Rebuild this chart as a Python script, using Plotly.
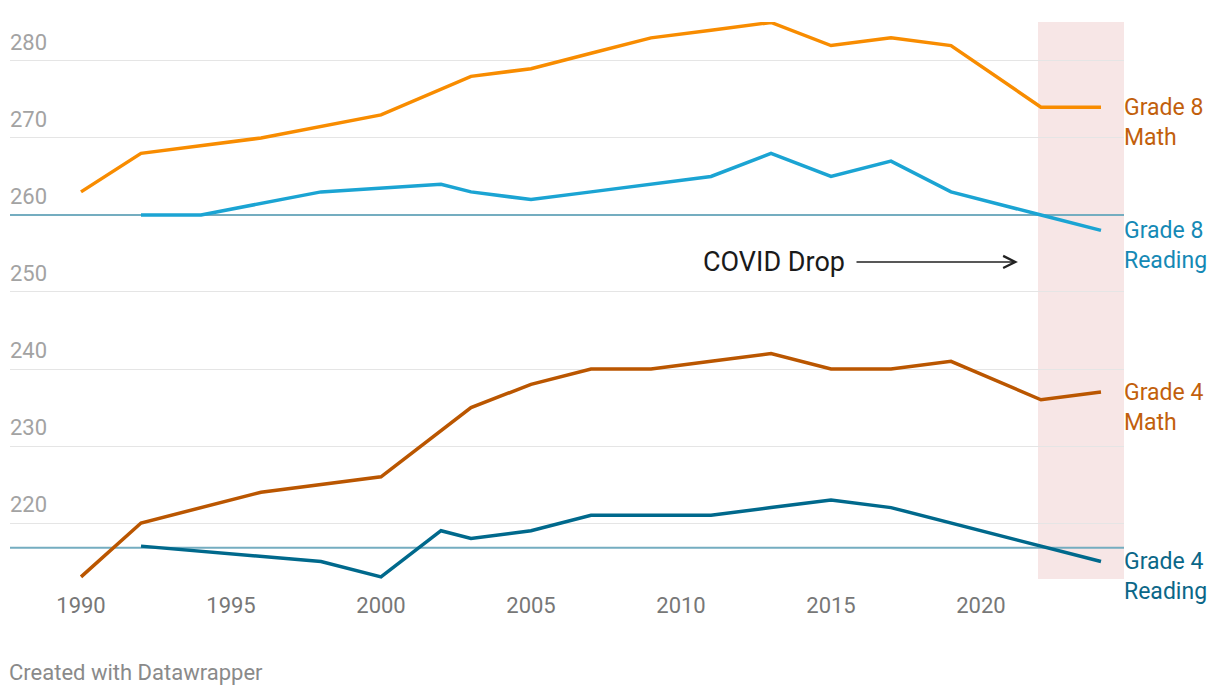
import plotly.graph_objects as go

# ---- data ----
g8_math_years = [1990, 1992, 1996, 2000, 2003, 2005, 2007, 2009, 2011, 2013, 2015, 2017, 2019, 2022, 2024]
g8_math = [263, 268, 270, 273, 278, 279, 281, 283, 284, 285, 282, 283, 282, 274, 274]

g8_read_years = [1992, 1994, 1998, 2002, 2003, 2005, 2007, 2009, 2011, 2013, 2015, 2017, 2019, 2022, 2024]
g8_read = [260, 260, 263, 264, 263, 262, 263, 264, 265, 268, 265, 267, 263, 260, 258]

g4_math_years = [1990, 1992, 1996, 2000, 2003, 2005, 2007, 2009, 2011, 2013, 2015, 2017, 2019, 2022, 2024]
g4_math = [213, 220, 224, 226, 235, 238, 240, 240, 241, 242, 240, 240, 241, 236, 237]

g4_read_years = [1992, 1998, 2000, 2002, 2003, 2005, 2007, 2009, 2011, 2013, 2015, 2017, 2019, 2022, 2024]
g4_read = [217, 215, 213, 219, 218, 219, 221, 221, 221, 222, 223, 222, 220, 217, 215]

reference_levels = [260, 216.8]
x_ticks = [1990, 1995, 2000, 2005, 2010, 2015, 2020]
y_ticks = [220, 230, 240, 250, 260, 270, 280]

series = [
    ("Grade 8<br>Math", g8_math_years, g8_math, "#f88c00", "#c25f0c"),
    ("Grade 8<br>Reading", g8_read_years, g8_read, "#1ba4d3", "#1589b5"),
    ("Grade 4<br>Math", g4_math_years, g4_math, "#ba5600", "#c25f0c"),
    ("Grade 4<br>Reading", g4_read_years, g4_read, "#00698c", "#0b6788"),
]

FONT = "Roboto"
X_MIN, X_MAX = 1987.633, 2024.767
Y_MIN, Y_MAX = 212.73, 285.06

fig = go.Figure()

# reference lines (above gridlines, below the data lines)
for lv in reference_levels:
    fig.add_trace(go.Scatter(x=[X_MIN, X_MAX], y=[lv, lv], mode="lines",
                             line=dict(color="#74adc0", width=2), hoverinfo="skip",
                             showlegend=False, cliponaxis=False))

for name, xs, ys, lc, tc in series:
    fig.add_trace(go.Scatter(x=xs, y=ys, mode="lines", name=name.replace("<br>", " "),
                             line=dict(color=lc, width=3.5), hoverinfo="skip", showlegend=False))
    fig.add_annotation(x=1, xref="paper", y=ys[-1], yref="y", text=name, showarrow=False,
                       xanchor="left", yanchor="top", yshift=15.5, xshift=-2, align="left",
                       font=dict(family=FONT, size=23, color=tc))

# COVID shaded period
fig.add_shape(type="rect", xref="x", yref="paper", x0=2021.9, x1=X_MAX, y0=0, y1=1,
              fillcolor="#f7e6e6", line=dict(width=0), layer="below")

# COVID annotation
fig.add_annotation(x=2021.23, y=253.9, ax=2015.8, ay=253.9, axref="x", ayref="y",
                   xref="x", yref="y", text="", showarrow=True, arrowhead=5,
                   arrowsize=1.7, arrowwidth=1.4, arrowcolor="#222222")
fig.add_annotation(x=2015.55, y=253.9, xref="x", yref="y", text="COVID Drop", showarrow=False,
                   xanchor="right", yanchor="middle", font=dict(family=FONT, size=27, color="#1a1a1a"))

# footer
fig.add_annotation(x=0, y=-0.167, xref="paper", yref="paper", text="Created with Datawrapper",
                   showarrow=False, xanchor="left", yanchor="middle", xshift=-3,
                   font=dict(family=FONT, size=22, color="#8a8a8a"))

fig.update_layout(
    width=1212, height=688, autosize=False,
    margin=dict(l=2, r=96, t=14, b=117),
    plot_bgcolor="white", paper_bgcolor="white",
    font=dict(family=FONT),
    xaxis=dict(range=[X_MIN, X_MAX], tickvals=x_ticks, showgrid=False, zeroline=False,
               showline=False, ticks="", ticklabelstandoff=11,
               tickfont=dict(family=FONT, size=22, color="#777777"),
               automargin=False, fixedrange=True),
    yaxis=dict(range=[Y_MIN, Y_MAX], tickvals=y_ticks, showgrid=True, gridcolor="#e5e5e5",
               gridwidth=1.3, zeroline=False, showline=False, ticks="",
               ticklabelposition="inside top", ticklabelshift=-3, ticklabelstandoff=-3,
               tickfont=dict(family=FONT, size=22, color="#a3a3a3"),
               automargin=False, fixedrange=True),
)

fig.write_html("out.html")
